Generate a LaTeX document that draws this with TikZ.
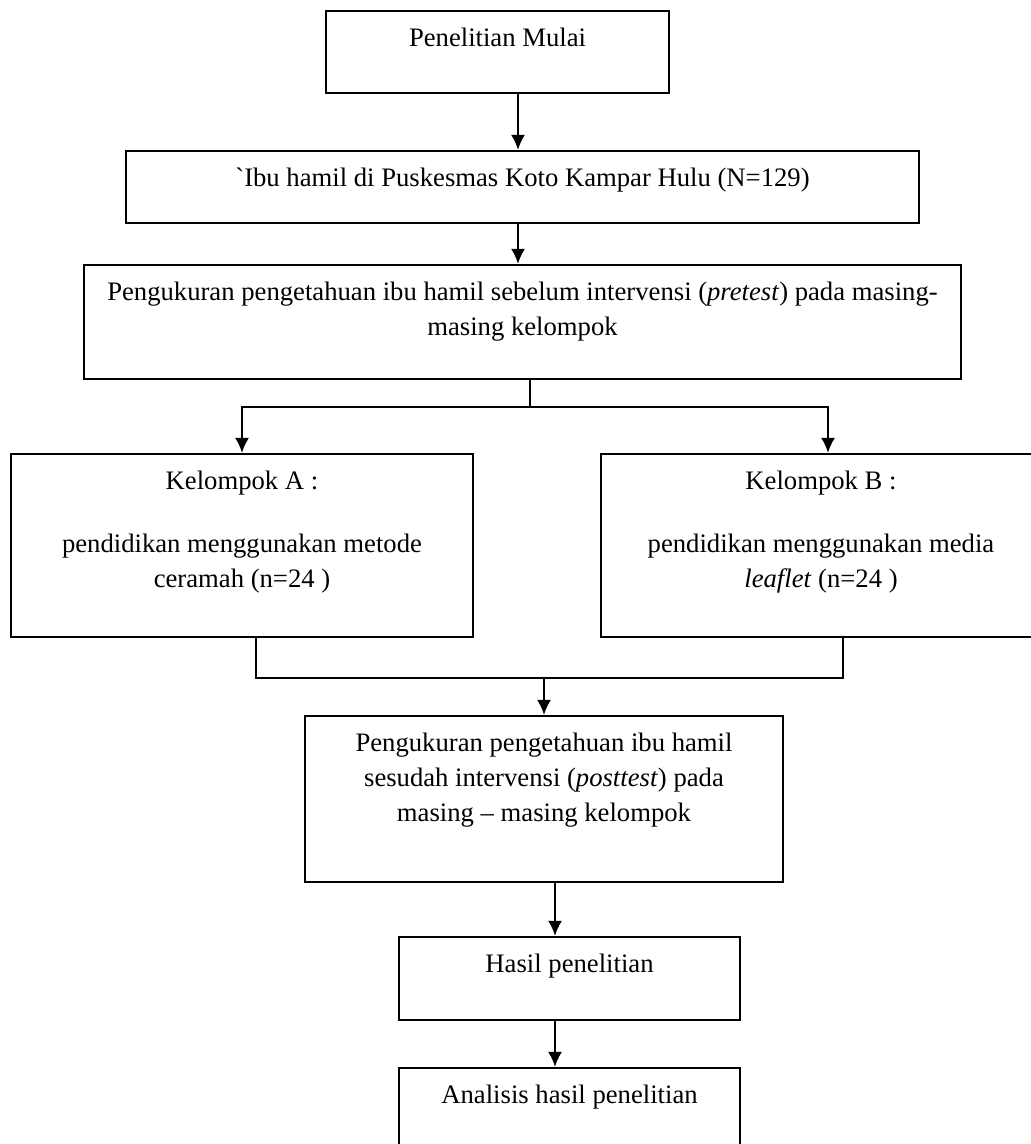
\documentclass[tikz,border=0pt]{standalone}
\usepackage{fontspec}
\setmainfont{Liberation Serif}
\usetikzlibrary{arrows.meta,positioning}

\begin{document}
\begin{tikzpicture}[x=0.45pt,y=-0.45pt,
        box/.style 2 args={draw,line width=1pt,inner sep=0pt,minimum width=#1*0.45pt,minimum height=#2*0.45pt},
        txt/.style={align=center,inner sep=0pt,font=\fontsize{12}{15.75}\selectfont},
        arr/.style={-{Latex[length=6.75pt,width=6.3pt]},line width=0.9pt},
        garis/.style={line width=0.9pt}]
            \useasboundingbox (0,0) rectangle (1030,1144);
            \node[box={343}{82}] (mulai) at (497.5,52) {};
            \node[box={793}{72}] (populasi) at (522.5,187) {};
            \node[box={877}{114}] (pretest) at (522.5,322) {};
            \node[box={462}{183}] (kelA) at (242,545.5) {};
            \node[box={440}{183}] (kelB) at (821,545.5) {};
            \node[box={478}{166}] (posttest) at (544,799) {};
            \node[box={341}{83}] (hasil) at (569.5,978.5) {};
            \node[box={341}{83}] (analisis) at (569.5,1109.5) {};
            \node[txt,below=8.1pt of mulai.north] (mulaiT) {Penelitian Mulai};
            \node[txt,below=8.1pt of populasi.north] (populasiT) {\textasciigrave Ibu hamil di Puskesmas Koto Kampar Hulu (N=129)};
            \node[txt,below=8.1pt of pretest.north] (pretestT) {Pengukuran pengetahuan ibu hamil sebelum intervensi (\textit{pretest}) pada masing-\\masing kelompok};
            \node[txt,below=8.1pt of kelA.north] (kelAT) {Kelompok A :\\[12.6pt]pendidikan menggunakan metode\\ceramah (n=24 )};
            \node[txt,below=8.1pt of kelB.north] (kelBT) {Kelompok B :\\[12.6pt]pendidikan menggunakan media\\\textit{leaflet} (n=24 )};
            \node[txt,below=8.1pt of posttest.north] (posttestT) {Pengukuran pengetahuan ibu hamil\\sesudah intervensi (\textit{posttest}) pada\\masing -- masing kelompok};
            \node[txt,below=8.1pt of hasil.north] (hasilT) {Hasil penelitian};
            \node[txt,below=8.1pt of analisis.north] (analisisT) {Analisis hasil penelitian};
            \coordinate (atas) at (518,0);
            \coordinate (bawah) at (555,0);
            \coordinate (bagi) at (530,407);
            \coordinate (bkanan) at (828,407);
            \coordinate (gkiri) at (256,678);
            \coordinate (gkanan) at (843,678);
            \coordinate (gabung) at (544,678);
            \draw[arr] (mulai.south -| atas) -- (populasi.north -| atas);
            \draw[arr] (populasi.south -| atas) -- (pretest.north -| atas);
            \draw[garis] (pretest.south -| bagi) -- (bagi);
            \draw[arr] (bagi) -| (kelA.north);
            \draw[arr] (bagi) -- (bkanan) -- (kelB.north -| bkanan);
            \draw[garis] (kelA.south -| gkiri) -- (gkiri) -- (gkanan) -- (kelB.south -| gkanan);
            \draw[arr] (gabung) -- (posttest.north);
            \draw[arr] (posttest.south -| bawah) -- (hasil.north -| bawah);
            \draw[arr] (hasil.south -| bawah) -- (analisis.north -| bawah);
        \end{tikzpicture}
\end{document}
